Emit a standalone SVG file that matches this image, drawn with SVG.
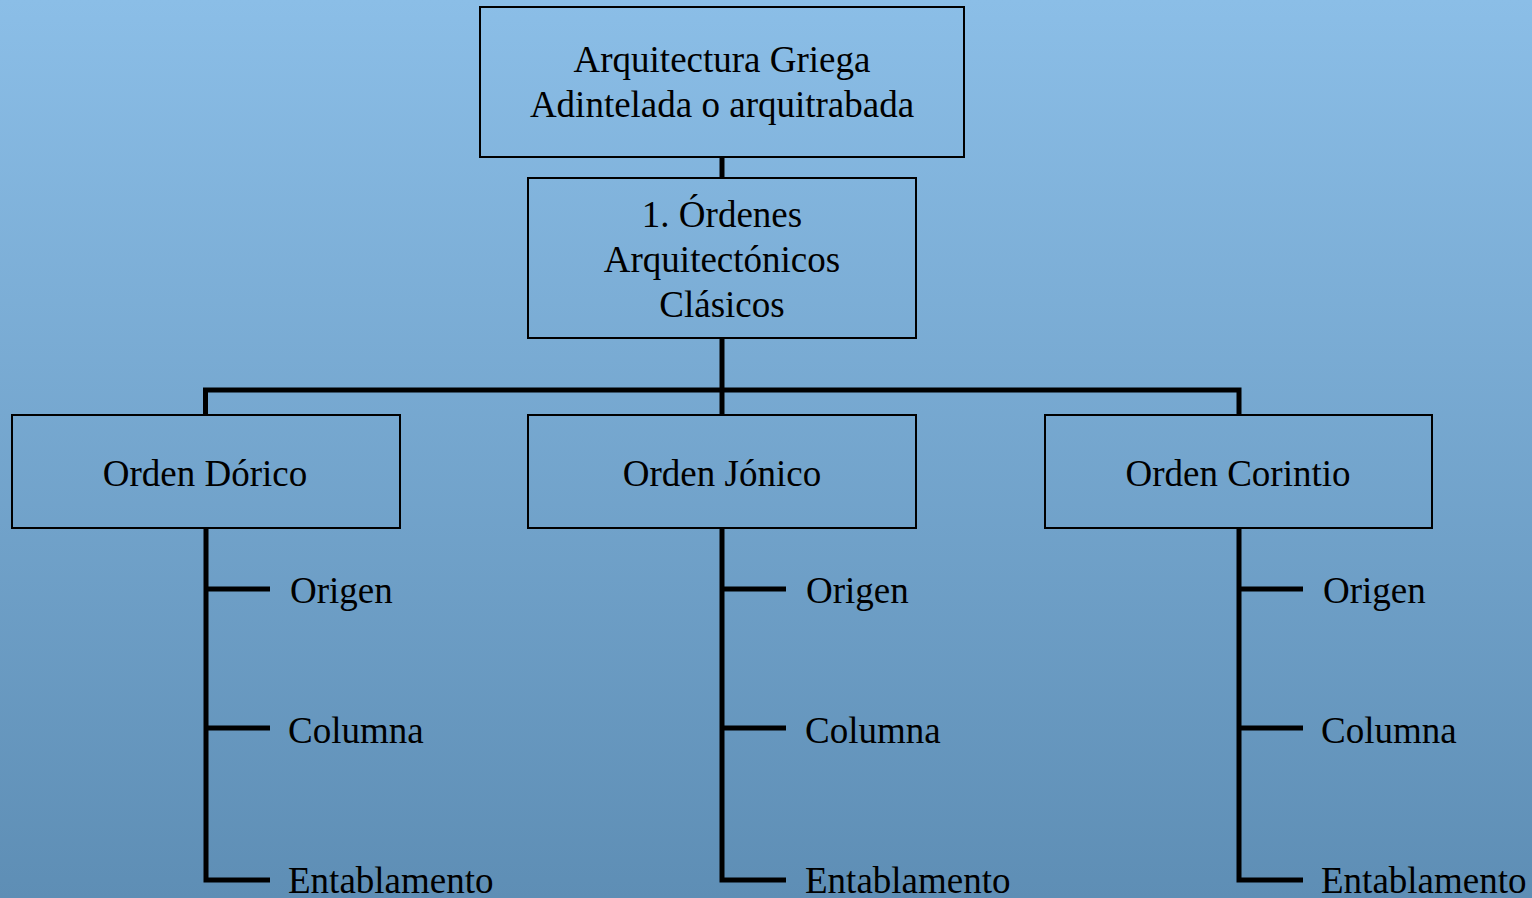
<svg xmlns="http://www.w3.org/2000/svg" width="1532" height="898" viewBox="0 0 1532 898">
<defs>
<linearGradient id="bg" x1="0" y1="0" x2="0" y2="1">
<stop offset="0" stop-color="#8bbee7"/>
<stop offset="1" stop-color="#5e8eb5"/>
</linearGradient>
<style>
.box{fill:none;stroke:#000;stroke-width:2}
.t{font-family:"Liberation Serif","Times New Roman",serif;font-size:37px;fill:#000}
.c{text-anchor:middle}
.ln{fill:none;stroke:#000;stroke-width:5;stroke-linejoin:miter}
</style>
</defs>
<rect x="0" y="0" width="1532" height="898" fill="url(#bg)"/>
<g id="connectors">
<path class="ln" d="M722 157V178"/>
<path class="ln" d="M722 338V415"/>
<path class="ln" d="M205.5 415V390H1239V415"/>
<path class="ln" d="M206 528V880H270M206 589H270M206 728H270"/>
<path class="ln" d="M722 528V880H786M722 589H786M722 728H786"/>
<path class="ln" d="M1239 528V880H1303M1239 589H1303M1239 728H1303"/>
</g>
<g id="root">
<rect class="box" x="480" y="7" width="484" height="150"/>
<text class="t c" x="722" y="72">Arquitectura Griega</text>
<text class="t c" x="722" y="117">Adintelada o arquitrabada</text>
</g>
<g id="ordenes">
<rect class="box" x="528" y="178" width="388" height="160"/>
<text class="t c" x="722" y="227">1. Órdenes</text>
<text class="t c" x="722" y="272">Arquitectónicos</text>
<text class="t c" x="722" y="317">Clásicos</text>
</g>
<g id="dorico">
<rect class="box" x="12" y="415" width="388" height="113"/>
<text class="t c" x="205" y="486">Orden Dórico</text>
</g>
<g id="jonico">
<rect class="box" x="528" y="415" width="388" height="113"/>
<text class="t c" x="722" y="486">Orden Jónico</text>
</g>
<g id="corintio">
<rect class="box" x="1045" y="415" width="387" height="113"/>
<text class="t c" x="1238" y="486">Orden Corintio</text>
</g>
<g id="dorico-items">
<text class="t" x="290" y="603">Origen</text>
<text class="t" x="288" y="743">Columna</text>
<text class="t" x="288" y="893">Entablamento</text>
</g>
<g id="jonico-items">
<text class="t" x="806" y="603">Origen</text>
<text class="t" x="805" y="743">Columna</text>
<text class="t" x="805" y="893">Entablamento</text>
</g>
<g id="corintio-items">
<text class="t" x="1323" y="603">Origen</text>
<text class="t" x="1321" y="743">Columna</text>
<text class="t" x="1321" y="893">Entablamento</text>
</g>
</svg>
